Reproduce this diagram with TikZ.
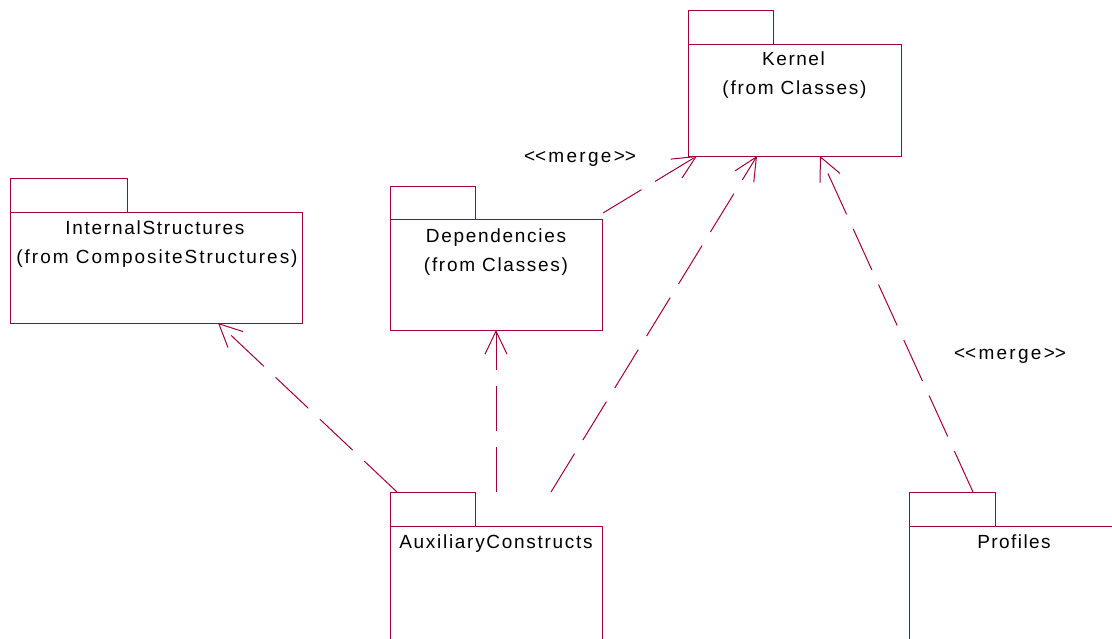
\documentclass[tikz,border=0pt]{standalone}
\usepackage{fontspec}
\setmainfont{Liberation Sans}
\newfontfamily\umlfont{Liberation Sans}
\usetikzlibrary{arrows.meta}
\definecolor{umlred}{RGB}{160,0,60}
\begin{document}
\begin{tikzpicture}[x=1pt,y=-1pt,
  pkg/.style={draw=umlred, line width=1pt, rectangle, inner sep=0pt, outer sep=0pt, anchor=north west},
  lbl/.style={font={\umlfont\fontsize{19}{23}\selectfont\addfontfeatures{LetterSpace=#1}}, anchor=base, inner sep=0pt, text=black},
  lbl/.default=9,
  dep/.style={draw=umlred, line width=1pt, dash pattern=on 45pt off 16pt, -{Straight Barb[length=23pt,width=22pt,line width=1pt]}}]
\useasboundingbox (0,0) rectangle (1112,638);
\clip (0,0) rectangle (1112,638);
\fill[white] (0,0) rectangle (1112,638);

% Kernel
\node[pkg, minimum width=85pt, minimum height=34pt] (kernelTab) at (688,10) {};
\node[pkg, minimum width=213pt, minimum height=112pt] (kernel) at (688,44) {};
\node[lbl=8] (kernelL1) at (793.5,65.5) {Kernel};
\node[lbl] (kernelL2) at (794.5,94) {(from Classes)};

% InternalStructures
\node[pkg, minimum width=117pt, minimum height=34pt] (internalTab) at (10,178) {};
\node[pkg, minimum width=292pt, minimum height=111pt] (internal) at (10,212) {};
\node[lbl] (internalL1) at (155,234) {InternalStructures};
\node[lbl=10.5] (internalL2) at (157,263) {(from CompositeStructures)};

% Dependencies
\node[pkg, minimum width=85pt, minimum height=33pt] (depsTab) at (390,186) {};
\node[pkg, minimum width=212pt, minimum height=111pt] (deps) at (390,219) {};
\node[lbl] (depsL1) at (496,242) {Dependencies};
\node[lbl] (depsL2) at (496,271.5) {(from Classes)};

% AuxiliaryConstructs
\node[pkg, minimum width=85pt, minimum height=34pt] (auxTab) at (390,492) {};
\node[pkg, minimum width=212pt, minimum height=130pt] (aux) at (390,526) {};
\node[lbl] (auxL1) at (496,548) {AuxiliaryConstructs};

% Profiles
\node[pkg, minimum width=86pt, minimum height=34pt] (profTab) at (909,492) {};
\node[pkg, minimum width=212pt, minimum height=130pt] (prof) at (909,526) {};
\node[lbl=7.5] (profL1) at (1014,548) {Profiles};

% merge labels
\node[lbl=12] (merge1) at (580,162) {<\kern0pt<merge>\kern0pt>};
\node[lbl=12] (merge2) at (1010,359) {<\kern0pt<merge>\kern0pt>};

% connector end points
\coordinate (auxA) at (397,492);
\coordinate (auxB) at (496,492);
\coordinate (auxC) at (551,492);
\coordinate (depsA) at (603,213);
\coordinate (profA) at (973,492);
\coordinate (internalT) at (218,323);
\coordinate (depsT) at (496,330);
\coordinate (kernelT1) at (697,156);
\coordinate (kernelT2) at (757,156);
\coordinate (kernelT3) at (820,156);

\draw[dep] (auxA) -- (internalT);
\draw[dep] (auxB) -- (depsT);
\draw[dep] (auxC) -- (kernelT2);
\draw[dep] (depsA) -- (kernelT1);
\draw[dep] (profA) -- (kernelT3);
\end{tikzpicture}
\end{document}
